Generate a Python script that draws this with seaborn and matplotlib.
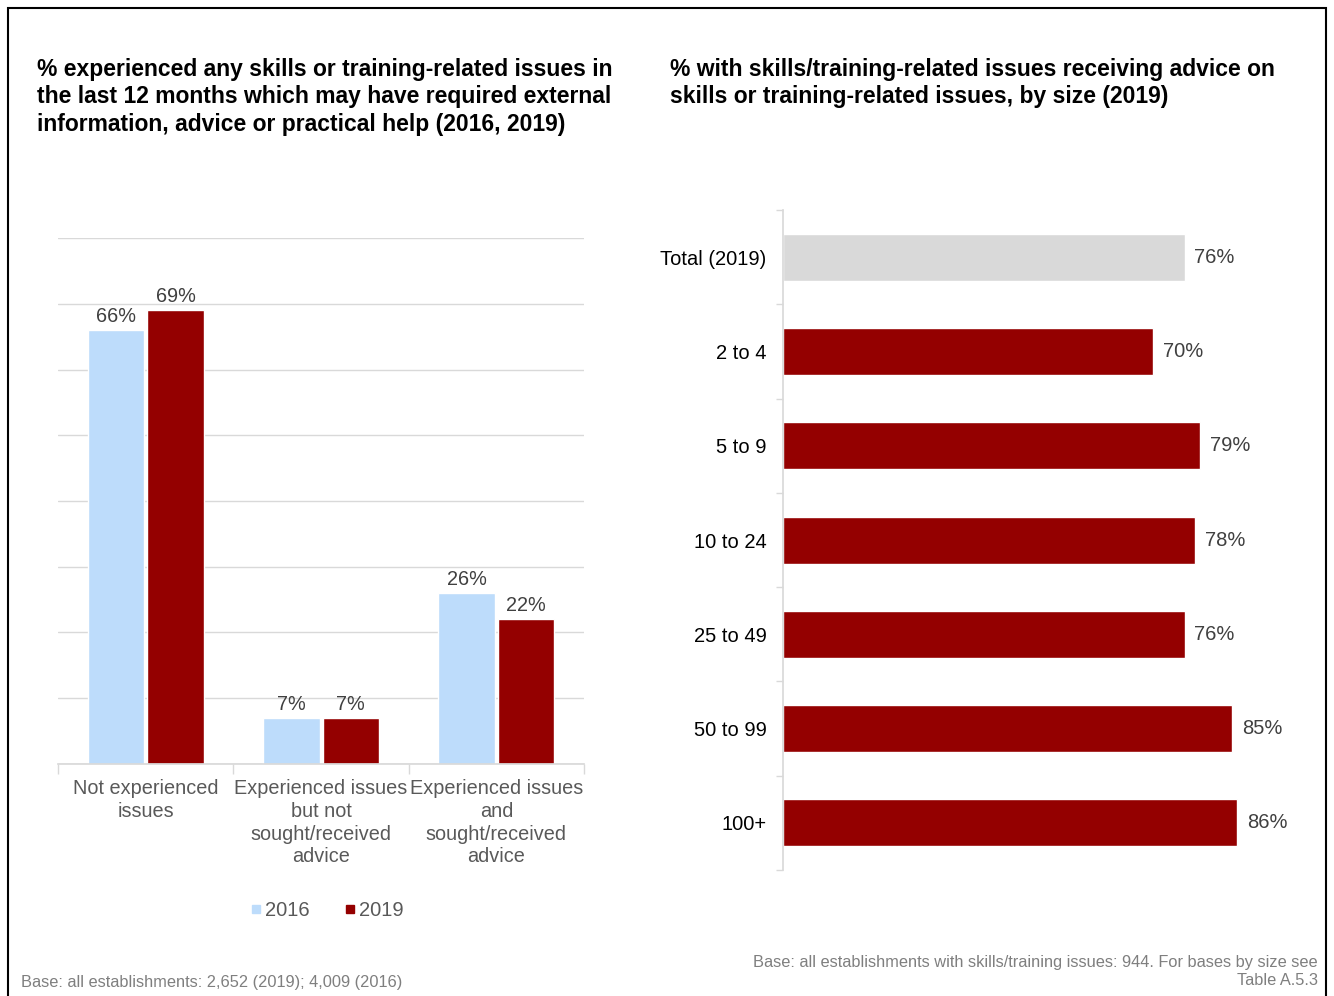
import numpy as np
import pandas as pd
import matplotlib
matplotlib.use("Agg")
import matplotlib.pyplot as plt
import seaborn as sns
from matplotlib.patches import Rectangle
from matplotlib.lines import Line2D

# Data
issue_cats = ["Not experienced\nissues",
              "Experienced issues\nbut not\nsought/received\nadvice",
              "Experienced issues\nand\nsought/received\nadvice"]
vals_2016 = [66, 7, 26]
vals_2019 = [69, 7, 22]
years = ["2016", "2019"]

size_cats = ["Total (2019)", "2 to 4", "5 to 9", "10 to 24", "25 to 49", "50 to 99", "100+"]
size_vals = [76, 70, 79, 78, 76, 85, 86]

BLUE = "#bddcfb"
RED = "#940000"
GREY_BAR = "#d9d9d9"
TXT = "#595959"
LBL = "#404040"

sns.set_theme(style="white")
plt.rcParams['font.family'] = ['Liberation Sans', 'DejaVu Sans']

fig = plt.figure(figsize=(13.34, 9.96), dpi=100)
fig.patches.append(Rectangle((0.006, -0.01), 0.988, 1.002, transform=fig.transFigure,
                             fill=False, edgecolor="black", linewidth=1.5))

# Left chart
df_left = pd.DataFrame({
    "cat": issue_cats * 2,
    "year": [years[0]] * 3 + [years[1]] * 3,
    "val": vals_2016 + vals_2019,
})
ax1 = fig.add_axes([0.0435, 0.233, 0.3943, 0.528])
sns.barplot(data=df_left, x="cat", y="val", hue="year", palette=[BLUE, RED],
            width=0.68, gap=0.05, saturation=1, ax=ax1, legend=False)
ax1.set_ylim(0, 80)
ax1.set_yticks(np.arange(0, 81, 10))
ax1.set_yticklabels([])
ax1.tick_params(axis="y", length=0)
ax1.grid(axis="y", color="#d9d9d9", linewidth=1)
ax1.set_axisbelow(True)
for s in ["left", "right", "top"]:
    ax1.spines[s].set_visible(False)
ax1.spines["bottom"].set_color("#d9d9d9")
ax1.set_xlim(-0.5, 2.5)
ax1.set_xlabel("")
ax1.set_ylabel("")
ax1.tick_params(axis="x", which="major", length=0, labelsize=14.3, labelcolor=TXT, pad=11)
for lab in ax1.get_xticklabels():
    lab.set_linespacing(1.25)
ax1.set_xticks([-0.5, 0.5, 1.5, 2.5], minor=True)
ax1.tick_params(axis="x", which="minor", length=7, color="#d9d9d9", width=1, bottom=True)
for cont in ax1.containers:
    ax1.bar_label(cont, labels=[f"{v:.0f}%" for v in cont.datavalues],
                  padding=3, fontsize=14.3, color=LBL)

# legend below left chart
handles = [Line2D([], [], marker="s", linestyle="", color=c, markersize=6) for c in [BLUE, RED]]
fig.legend(handles, years, loc="center", bbox_to_anchor=(0.2395, 0.086), ncol=2,
           frameon=False, fontsize=14.5, handletextpad=-0.55, columnspacing=1.0,
           labelcolor=TXT)

# Right chart
df_right = pd.DataFrame({"size": size_cats, "val": size_vals})
ax2 = fig.add_axes([0.587, 0.1265, 0.396, 0.6625])
sns.barplot(data=df_right, y="size", x="val", hue="size",
            palette=[GREY_BAR] + [RED] * 6, width=0.5, saturation=1, ax=ax2, legend=False)
ax2.set_xlim(0, 100)
ax2.set_ylim(6.5, -0.5)
ax2.set_xticks([])
ax2.set_xlabel("")
ax2.set_ylabel("")
for s in ["right", "top", "bottom"]:
    ax2.spines[s].set_visible(False)
ax2.spines["left"].set_color("#d9d9d9")
ax2.tick_params(axis="y", which="major", length=0, labelsize=14.5, labelcolor="black", pad=12)
ax2.set_yticks(np.arange(-0.5, 7, 1), minor=True)
ax2.tick_params(axis="y", which="minor", length=5, color="#d9d9d9", width=1, left=True)
for cont in ax2.containers:
    ax2.bar_label(cont, labels=[f"{v:.0f}%" for v in cont.datavalues],
                  padding=7, fontsize=14.5, color=LBL)

# Titles
fig.text(0.028, 0.942,
         "% experienced any skills or training-related issues in\n"
         "the last 12 months which may have required external\n"
         "information, advice or practical help (2016, 2019)",
         ha="left", va="top", fontsize=16.5, fontweight="bold", color="black",
         linespacing=1.26)
fig.text(0.502, 0.942,
         "% with skills/training-related issues receiving advice on\n"
         "skills or training-related issues, by size (2019)",
         ha="left", va="top", fontsize=16.5, fontweight="bold", color="black",
         linespacing=1.26)

# Base notes
fig.text(0.016, 0.014, "Base: all establishments: 2,652 (2019); 4,009 (2016)",
         ha="left", va="center", fontsize=11.8, color="#7f7f7f")
fig.text(0.988, 0.025,
         "Base: all establishments with skills/training issues: 944. For bases by size see\nTable A.5.3",
         ha="right", va="center", fontsize=11.8, color="#7f7f7f", linespacing=1.25)

fig.savefig("out.png", dpi=100)
